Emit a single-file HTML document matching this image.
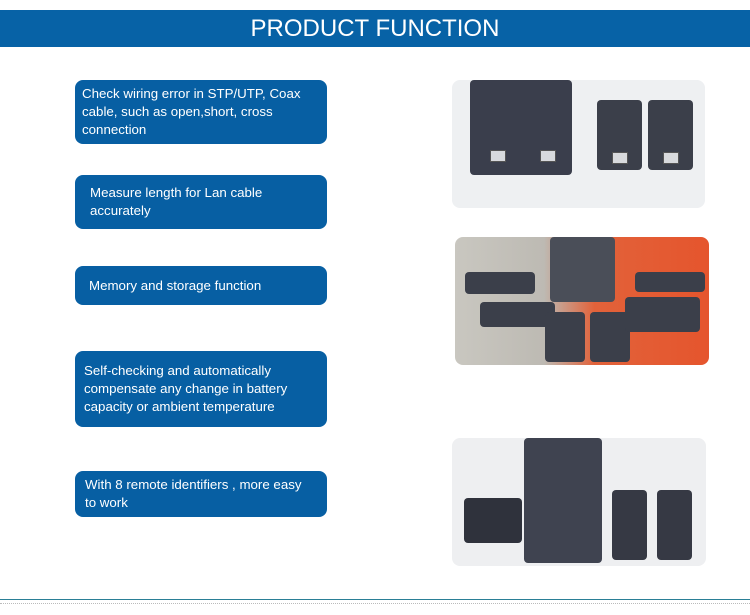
<!DOCTYPE html>
<html><head><style>
body{margin:0;width:750px;height:615px;background:#fff;position:relative;overflow:hidden;font-family:"Liberation Sans",Arial,sans-serif}
.hdr{position:absolute;left:0;top:10px;width:750px;height:37px;background:#0762a6;color:#fff;font-size:24px;text-align:center;line-height:37px}
.b{position:absolute;left:75px;width:252px;background:#075fa3;color:#fff;font-size:13.3px;line-height:18px;border-radius:8px;box-sizing:border-box;display:flex;align-items:center}
.img{position:absolute;border-radius:8px;overflow:hidden}
.d{position:absolute;background:#3b3f4a;border-radius:4px}
.p{position:absolute;background:#d8dadd;border:1px solid #555;width:14px;height:10px}
</style></head><body>
<div class="hdr">PRODUCT FUNCTION</div>
<div class="b" style="top:80px;height:64px;padding-left:7px;padding-right:4px">Check wiring error in STP/UTP, Coax cable, such as open,short, cross connection</div>
<div class="b" style="top:175px;height:54px;padding-left:15px;padding-right:50px">Measure length for Lan cable accurately</div>
<div class="b" style="top:266px;height:39px;padding-left:14px">Memory and storage function</div>
<div class="b" style="top:351px;height:76px;padding-left:9px">Self-checking and automatically compensate any change in battery capacity or ambient temperature</div>
<div class="b" style="top:471px;height:46px;padding-left:10px;padding-right:14px">With 8 remote identifiers , more easy to work</div>

<div class="img" style="left:452px;top:80px;width:253px;height:128px;background:#eef0f2">
<div class="d" style="left:18px;top:0;width:102px;height:95px;background:#3a3e4c"></div>
<div class="p" style="left:38px;top:70px"></div><div class="p" style="left:88px;top:70px"></div>
<div class="d" style="left:145px;top:20px;width:45px;height:70px"></div>
<div class="d" style="left:196px;top:20px;width:45px;height:70px"></div>
<div class="p" style="left:160px;top:72px"></div><div class="p" style="left:211px;top:72px"></div>
</div>
<div class="img" style="left:455px;top:237px;width:254px;height:128px;background:linear-gradient(90deg,#c9c7c0 0%,#bdbab3 35%,#e2623a 55%,#e5552d 100%)">
<div class="d" style="left:95px;top:0;width:65px;height:65px;background:#4a4e58"></div>
<div class="d" style="left:10px;top:35px;width:70px;height:22px"></div>
<div class="d" style="left:25px;top:65px;width:75px;height:25px"></div>
<div class="d" style="left:90px;top:75px;width:40px;height:50px"></div>
<div class="d" style="left:135px;top:75px;width:40px;height:50px"></div>
<div class="d" style="left:170px;top:60px;width:75px;height:35px"></div>
<div class="d" style="left:180px;top:35px;width:70px;height:20px"></div>
</div>
<div class="img" style="left:452px;top:438px;width:254px;height:128px;background:#eeeff1">
<div class="d" style="left:72px;top:0;width:78px;height:125px;background:#3f4350"></div>
<div class="d" style="left:12px;top:60px;width:58px;height:45px;background:#2f323c"></div>
<div class="d" style="left:160px;top:52px;width:35px;height:70px;background:#363944"></div>
<div class="d" style="left:205px;top:52px;width:35px;height:70px;background:#363944"></div>
</div>
<div style="position:absolute;left:0;top:599px;width:750px;height:1px;background:#2a7f96"></div>
<div style="position:absolute;left:0;top:603px;width:750px;border-top:1px dotted #bbb"></div>
</body></html>
